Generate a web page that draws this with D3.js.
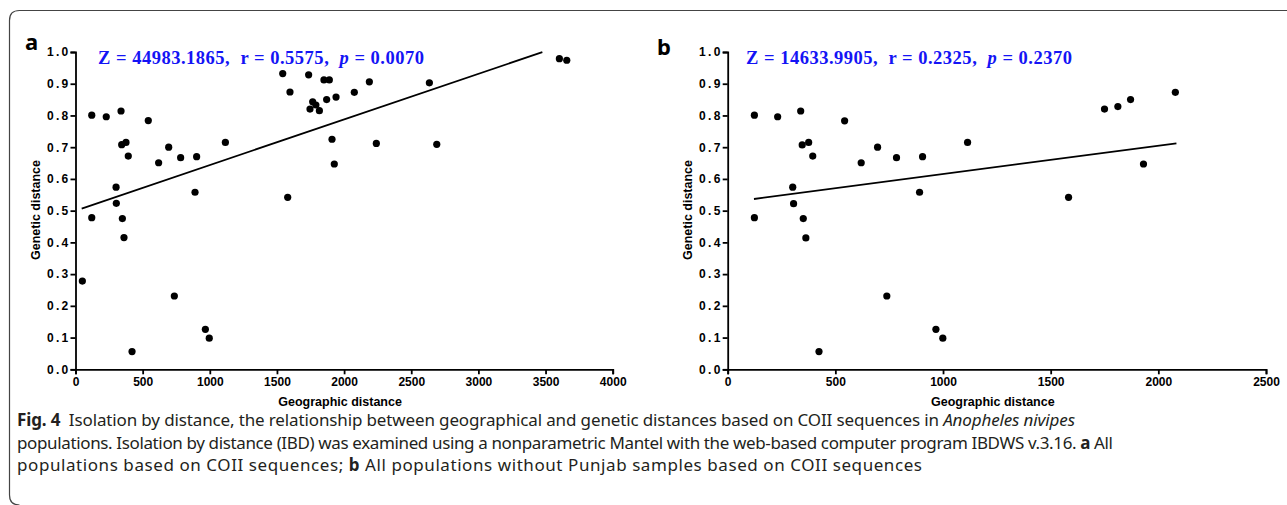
<!DOCTYPE html>
<html>
<head>
<meta charset="utf-8">
<script src="https://cdn.jsdelivr.net/npm/d3@7"></script>
<style>
  body { margin: 0; background: #fff; }
  svg text { white-space: pre; }
</style>
</head>
<body>
<div id="chart"></div>
<script>
// panel a: all populations
var distA = [51, 121, 121, 229, 302, 304, 339, 344, 349, 361, 376, 393, 421, 542, 619, 694, 736, 783, 890, 902,
  967, 996, 1116, 1543, 1580, 1597, 1736, 1746, 1766, 1790, 1816, 1850, 1870, 1890, 1910, 1927, 1940, 2076,
  2188, 2240, 2635, 2690, 3603, 3658];
var genA = [0.278, 0.801, 0.478, 0.796, 0.574, 0.523, 0.814, 0.708, 0.475, 0.415, 0.715, 0.672, 0.056, 0.784,
  0.651, 0.700, 0.231, 0.667, 0.558, 0.670, 0.126, 0.098, 0.715, 0.932, 0.542, 0.874, 0.928, 0.820, 0.843,
  0.833, 0.815, 0.912, 0.850, 0.912, 0.725, 0.647, 0.858, 0.873, 0.906, 0.712, 0.903, 0.709, 0.979, 0.974];
// panel b: without Punjab
var distB = [124, 124, 232, 302, 306, 339, 346, 351, 363, 376, 395, 424, 543, 620, 696, 739, 784, 891, 905,
  967, 999, 1114, 1583, 1750, 1812, 1871, 1931, 2079];
var genB = [0.801, 0.478, 0.796, 0.574, 0.522, 0.814, 0.707, 0.475, 0.414, 0.715, 0.672, 0.056, 0.783, 0.651,
  0.700, 0.231, 0.667, 0.558, 0.670, 0.126, 0.098, 0.715, 0.542, 0.820, 0.828, 0.850, 0.647, 0.873];

// fitted lines: [x start, x end], intercept, slope
var fitA = { range: [46, 3476], b0: 0.500, b1: 0.0001437 };
var fitB = { range: [122, 2084], b0: 0.5258, b1: 0.0000895 };

var statsA = ['Z = 44983.1865,  r = 0.5575,  ', 'p', ' = 0.0070'];
var statsB = ['Z = 14633.9905,  r = 0.2325,  ', 'p', ' = 0.2370'];

var yTicks = [0, 0.1, 0.2, 0.3, 0.4, 0.5, 0.6, 0.7, 0.8, 0.9, 1.0];
var xTicksA = [0, 500, 1000, 1500, 2000, 2500, 3000, 3500, 4000];
var xTicksB = [0, 500, 1000, 1500, 2000, 2500];

var W = 1287, H = 505;
var svg = d3.select('#chart').append('svg').attr('width', W).attr('height', H);

// rounded frame
svg.append('path')
  .attr('d', 'M' + W + ',10.5 L19.5,10.5 Q9.5,10.5 9.5,20.5 L9.5,495 Q9.5,505 19.5,505')
  .attr('fill', 'none').attr('stroke', '#444').attr('stroke-width', 1.2);

function panel(opts) {
  var x = d3.scaleLinear().domain([0, opts.xmax]).range(opts.xr);
  var y = d3.scaleLinear().domain([0, 1]).range([369.3, 52]);
  var g = svg.append('g');

  var ya = g.append('g').attr('transform', 'translate(' + opts.xr[0] + ',0)')
    .call(d3.axisLeft(y).tickValues(yTicks).tickFormat(d3.format('.1f')).tickSize(5).tickPadding(0));
  var xa = g.append('g').attr('transform', 'translate(0,369.3)')
    .call(d3.axisBottom(x).tickValues(opts.xticks).tickFormat(d3.format('d')).tickSize(5).tickPadding(3));
  [ya, xa].forEach(function(a) {
    a.selectAll('path,line').attr('stroke', '#000').attr('stroke-width', 1.8);
    a.selectAll('text').attr('fill', '#000')
      .style('font', 'bold 12px "Liberation Sans", Arial, sans-serif');
  });
  ya.selectAll('text').style('letter-spacing', '2.3px');

  g.append('text')
    .attr('transform', 'translate(' + (opts.xr[0] - 40) + ',210) rotate(-90)')
    .attr('text-anchor', 'middle').attr('dy', '0.35em')
    .style('font', 'bold 12.5px "Liberation Sans", Arial, sans-serif')
    .text('Genetic distance');
  g.append('text')
    .attr('x', (opts.xr[0] + opts.xr[1]) / 2 - 4).attr('y', 406)
    .attr('text-anchor', 'middle')
    .style('font', 'bold 12.5px "Liberation Sans", Arial, sans-serif')
    .text('Geographic distance');

  g.append('text').attr('x', opts.tag[0]).attr('y', opts.tag[1])
    .style('font', 'bold 22px "Noto Sans", "Liberation Sans", sans-serif')
    .text(opts.name);

  var st = g.append('text').attr('x', opts.statsX).attr('y', 63.5)
    .attr('fill', '#1414f5')
    .attr('textLength', 326).attr('lengthAdjust', 'spacing')
    .style('font', 'bold 18.5px "Liberation Serif", "Times New Roman", serif');
  opts.stats.forEach(function(s, i) {
    st.append('tspan').style('font-style', i === 1 ? 'italic' : 'normal').text(s);
  });

  var f = opts.fit;
  g.append('line')
    .attr('x1', x(f.range[0])).attr('y1', y(f.b0 + f.b1 * f.range[0]))
    .attr('x2', x(f.range[1])).attr('y2', y(f.b0 + f.b1 * f.range[1]))
    .attr('stroke', '#000').attr('stroke-width', 1.8);

  g.selectAll('circle.pt').data(opts.xs).enter().append('circle')
    .attr('class', 'pt')
    .attr('cx', function(d) { return x(d); })
    .attr('cy', function(d, i) { return y(opts.ys[i]); })
    .attr('r', 3.6).attr('fill', '#000');
}

panel({ name: 'a', tag: [25, 50], xs: distA, ys: genA, xmax: 4000, xr: [75.5, 612.7], xticks: xTicksA,
  fit: fitA, stats: statsA, statsX: 98 });
panel({ name: 'b', tag: [657, 55], xs: distB, ys: genB, xmax: 2500, xr: [727.7, 1266], xticks: xTicksB,
  fit: fitB, stats: statsB, statsX: 746 });

// caption (lines are set to the widths they have in the figure)
var cap = svg.append('g').style('font', '17px "Noto Sans", "Open Sans", sans-serif').attr('fill', '#231f20');
var l1 = cap.append('text').attr('x', 17).attr('y', 426)
  .attr('textLength', 1058).attr('lengthAdjust', 'spacing');
l1.append('tspan').style('font-weight', 'bold').text('Fig. 4');
l1.append('tspan').text('  Isolation by distance, the relationship between geographical and genetic distances based on COII sequences in ');
l1.append('tspan').style('font-style', 'italic').text('Anopheles nivipes');
var l2 = cap.append('text').attr('x', 17).attr('y', 448.5)
  .attr('textLength', 1096).attr('lengthAdjust', 'spacing');
l2.append('tspan').text('populations. Isolation by distance (IBD) was examined using a nonparametric Mantel with the web-based computer program IBDWS v.3.16. ');
l2.append('tspan').style('font-weight', 'bold').text('a');
l2.append('tspan').text(' All');
var l3 = cap.append('text').attr('x', 17).attr('y', 471)
  .attr('textLength', 905).attr('lengthAdjust', 'spacing');
l3.append('tspan').text('populations based on COII sequences; ');
l3.append('tspan').style('font-weight', 'bold').text('b');
l3.append('tspan').text(' All populations without Punjab samples based on COII sequences');
</script>
</body>
</html>
